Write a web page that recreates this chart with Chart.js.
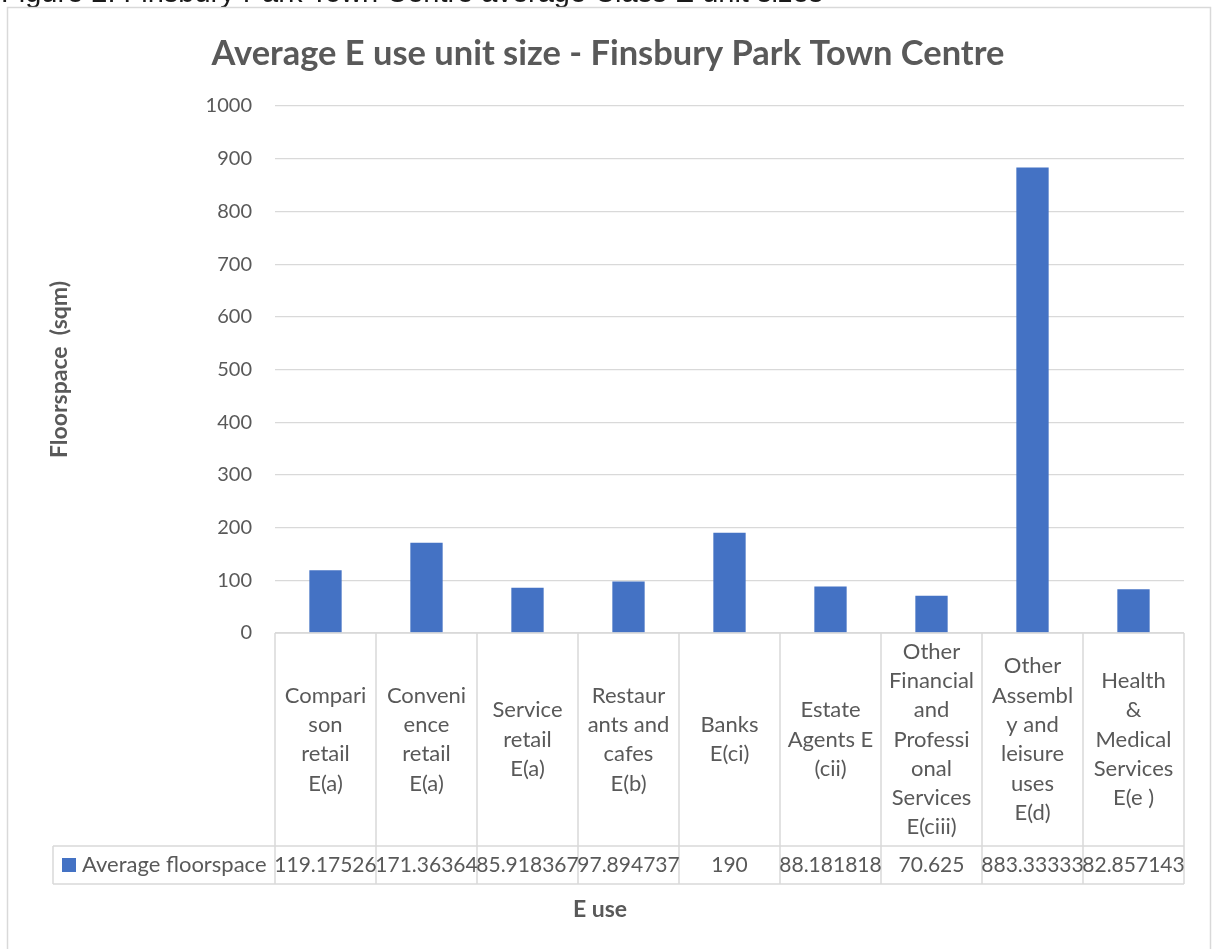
<!DOCTYPE html>
<html>
<head>
<meta charset="utf-8">
<script src="https://cdn.jsdelivr.net/npm/chart.js@4.4.1/dist/chart.umd.min.js"></script>
<style>
  html, body { margin: 0; padding: 0; background: #ffffff; overflow: hidden; }
  #wrap { position: absolute; left: 0; top: 0; width: 1216px; height: 949px; }
</style>
</head>
<body>
<div id="wrap"><canvas id="c" width="1216" height="949"></canvas></div>
<script>
// ---- data ----
const captionText = "Figure 2: Finsbury Park Town Centre average Class E unit sizes";
const chartTitle = "Average E use unit size - Finsbury Park Town Centre";
const yAxisTitle = "Floorspace  (sqm)";
const xAxisTitle = "E use";
const seriesName = "Average floorspace";
const categories = [
  ["Compari", "son", "retail", "E(a)"],
  ["Conveni", "ence", "retail", "E(a)"],
  ["Service", "retail", "E(a)"],
  ["Restaur", "ants and", "cafes", "E(b)"],
  ["Banks", "E(ci)"],
  ["Estate", "Agents E", "(cii)"],
  ["Other", "Financial", "and", "Professi", "onal", "Services", "E(ciii)"],
  ["Other", "Assembl", "y and", "leisure", "uses", "E(d)"],
  ["Health", "&", "Medical", "Services", "E(e )"]
];
const avgFloorspace = [119.17526, 171.36364, 85.918367, 97.894737, 190, 88.181818, 70.625, 883.33333, 82.857143];
const yMin = 0, yMax = 1000, yStep = 100;

// ---- styles ----
const FONT = "Lato, 'Open Sans', sans-serif";
const TEXT = "#595959";
const LINE = "#d9d9d9";
const BAR = "#4472C4";

const decorPlugin = {
  id: "decor",
  afterDraw(chart) {
    const ctx = chart.ctx;
    const xs = chart.scales.x;
    const ys = chart.scales.y;
    const n = categories.length;
    const colW = (xs.right - xs.left) / n;
    const axisY = ys.getPixelForValue(0);
    const rowTop = 846, rowBot = 884, tableLeft = 53;
    ctx.save();

    // caption (partly cut off at top)
    ctx.fillStyle = "#1a1a1a";
    ctx.font = "29px 'Liberation Sans', Arial, sans-serif";
    ctx.textAlign = "left";
    ctx.textBaseline = "alphabetic";
    ctx.fillText(captionText, 1, 2);

    // chart frame
    ctx.strokeStyle = LINE;
    ctx.lineWidth = 1.5;
    ctx.strokeRect(7.5, 7.5, 1203, 1100);

    // title
    ctx.fillStyle = TEXT;
    let fs = 30;
    ctx.font = "bold " + fs + "px " + FONT;
    const w = ctx.measureText(chartTitle).width;
    fs = fs * 793 / w;
    ctx.font = "bold " + fs.toFixed(2) + "px " + FONT;
    ctx.textAlign = "center";
    ctx.textBaseline = "middle";
    ctx.fillText(chartTitle, 608, 54);

    // y axis title
    ctx.save();
    ctx.translate(60, (ys.top + ys.bottom) / 2);
    ctx.rotate(-Math.PI / 2);
    ctx.font = "bold 23px " + FONT;
    ctx.fillText(yAxisTitle, 0, 0);
    ctx.restore();

    // table lines
    ctx.strokeStyle = LINE;
    ctx.lineWidth = 1.5;
    ctx.beginPath();
    ctx.moveTo(xs.left, axisY); ctx.lineTo(xs.right, axisY);
    for (let i = 0; i <= n; i++) {
      const bx = xs.getPixelForValue(Math.min(i, n - 1)) + (i === n ? colW / 2 : -colW / 2);
      ctx.moveTo(bx, axisY); ctx.lineTo(bx, rowBot);
    }
    ctx.moveTo(tableLeft, rowTop); ctx.lineTo(xs.right, rowTop);
    ctx.moveTo(tableLeft, rowBot); ctx.lineTo(xs.right, rowBot);
    ctx.moveTo(tableLeft, rowTop); ctx.lineTo(tableLeft, rowBot);
    ctx.stroke();

    // category labels
    ctx.fillStyle = TEXT;
    ctx.font = "22px " + FONT;
    ctx.textAlign = "center";
    ctx.textBaseline = "middle";
    const lh = 29.3;
    const midY = (axisY + rowTop) / 2;
    categories.forEach((lines, i) => {
      const cx = xs.getPixelForValue(i);
      const y0 = midY - (lines.length - 1) * lh / 2;
      lines.forEach((t, k) => ctx.fillText(t, cx, y0 + k * lh));
    });

    // data row
    const rowMid = (rowTop + rowBot) / 2;
    ctx.font = "21px " + FONT;
    avgFloorspace.forEach((v, i) => {
      ctx.fillText(String(v), xs.getPixelForValue(i), rowMid);
    });
    ctx.fillStyle = BAR;
    ctx.fillRect(62, rowMid - 7, 14, 14);
    ctx.fillStyle = TEXT;
    ctx.textAlign = "left";
    ctx.font = "22px " + FONT;
    ctx.fillText(seriesName, 82, rowMid);

    // x axis title
    ctx.textAlign = "center";
    ctx.font = "bold 23px " + FONT;
    ctx.fillText(xAxisTitle, 600, 910);
    ctx.restore();
  }
};

new Chart(document.getElementById("c"), {
  type: "bar",
  data: {
    labels: categories.map(l => l.join(" ")),
    datasets: [{
      label: seriesName,
      data: avgFloorspace,
      backgroundColor: BAR,
      borderWidth: 0,
      categoryPercentage: 1,
      barPercentage: 0.32
    }]
  },
  options: {
    responsive: false,
    animation: false,
    devicePixelRatio: 1,
    layout: { padding: { left: 0, right: 32, top: 106, bottom: 316 } },
    plugins: { legend: { display: false }, tooltip: { enabled: false }, title: { display: false } },
    scales: {
      x: { display: false },
      y: {
        min: yMin, max: yMax,
        ticks: { stepSize: yStep, color: TEXT, font: { family: FONT, size: 20 }, padding: 23, callback: v => String(v) },
        grid: { color: LINE, lineWidth: 1.2, drawTicks: false },
        border: { display: false },
        afterFit(scale) { scale.width = 275; }
      }
    }
  },
  plugins: [decorPlugin]
});
</script>
</body>
</html>
